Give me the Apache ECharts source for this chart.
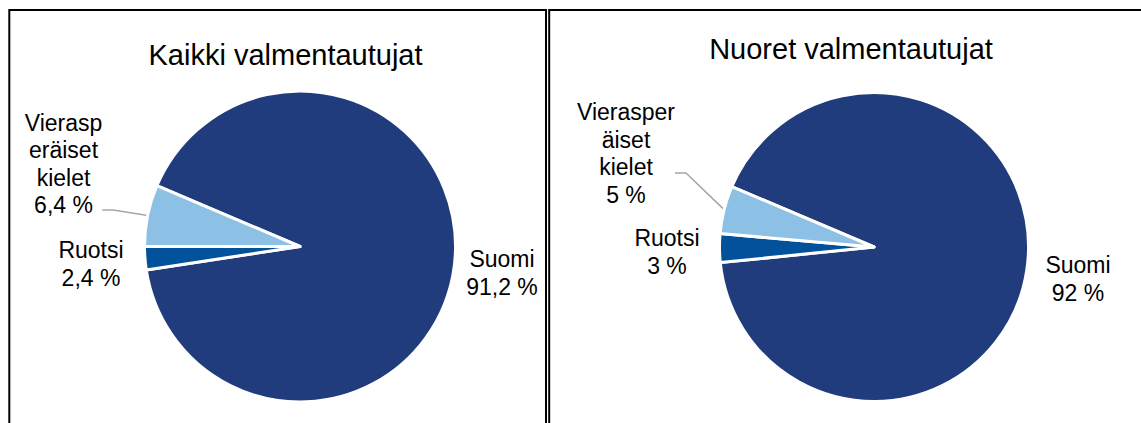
<!DOCTYPE html>
<html>
<head>
<meta charset="utf-8">
<script src="https://cdn.jsdelivr.net/npm/echarts@6/dist/echarts.min.js"></script>
<style>
  html, body { margin: 0; padding: 0; background: #ffffff; }
  #chart { width: 1141px; height: 423px; }
</style>
</head>
<body>
<div id="chart"></div>
<script>
// ---- Data ----
const categories = ['Suomi', 'Ruotsi', 'Vierasperäiset kielet'];
const leftTitle = 'Kaikki valmentautujat';
const rightTitle = 'Nuoret valmentautujat';
const leftValues = [91.2, 2.4, 6.4];
const rightValues = [92, 3, 5];
// label texts as wrapped in the original picture
const leftLabelNames = ['Suomi', 'Ruotsi', 'Vierasp\neräiset\nkielet'];
const rightLabelNames = ['Suomi', 'Ruotsi', 'Vierasper\näiset\nkielet'];

// ---- Styling ----
const sliceColors = ['#203C7C', '#01529B', '#8CC0E4'];
// label centre positions; the third label gets an invisible spacer line at the
// bottom so that its leader line attaches lower on its right side
const labelSpots = {
  left:  [[502, 273], [91, 264], [63.5, 210]],
  right: [[1078, 279], [667, 252], [626, 173]]
};
const spacerHeight = { left: 92, right: 38.8 };

function fmtPct(v) {
  return String(v).replace('.', ',') + ' %';
}

function buildData(values) {
  return categories.map(function (name, i) {
    return {
      name: name,
      value: values[i],
      itemStyle: { color: sliceColors[i] },
      labelLine: { show: i === 2 }
    };
  });
}

function makeSeries(values, labelNames, center, radius, spots, spacer) {
  return {
    type: 'pie',
    center: center,
    radius: radius,
    startAngle: 157,
    clockwise: true,
    avoidLabelOverlap: false,
    animation: false,
    silent: true,
    data: buildData(values),
    itemStyle: { borderColor: '#ffffff', borderWidth: 3 },
    label: {
      show: true,
      position: 'outside',
      color: '#000000',
      fontFamily: 'Liberation Sans, Arial, sans-serif',
      fontSize: 23,
      lineHeight: 27.5,
      align: 'center',
      formatter: function (p) {
        let s = labelNames[p.dataIndex] + '\n' + fmtPct(p.value);
        if (p.dataIndex === 2) s += '\n{sp| }';
        return s;
      },
      rich: {
        sp: { fontSize: 2, lineHeight: spacer, height: spacer }
      }
    },
    labelLine: {
      show: true,
      length: 10,
      length2: 11,
      smooth: false,
      lineStyle: { color: '#A6A6A6', width: 1.5 }
    },
    labelLayout: function (params) {
      const s = spots[params.dataIndex];
      return { x: s[0], y: s[1], align: 'center', verticalAlign: 'middle', hideOverlap: false };
    }
  };
}

const chart = echarts.init(document.getElementById('chart'), null, { renderer: 'svg' });

chart.setOption({
  backgroundColor: '#ffffff',
  animation: false,
  title: [
    {
      text: leftTitle,
      left: 285.5,
      top: 40,
      padding: 0,
      textAlign: 'center',
      textStyle: { fontFamily: 'Liberation Sans, Arial, sans-serif', fontSize: 29, fontWeight: 'normal', color: '#000000' }
    },
    {
      text: rightTitle,
      left: 851,
      top: 34.4,
      padding: 0,
      textAlign: 'center',
      textStyle: { fontFamily: 'Liberation Sans, Arial, sans-serif', fontSize: 29, fontWeight: 'normal', color: '#000000' }
    }
  ],
  graphic: [
    {
      type: 'rect',
      silent: true,
      shape: { x: 9.3, y: 10, width: 536.7, height: 520 },
      style: { fill: 'none', stroke: '#000000', lineWidth: 2 }
    },
    {
      type: 'rect',
      silent: true,
      shape: { x: 549.2, y: 10, width: 700, height: 520 },
      style: { fill: 'none', stroke: '#000000', lineWidth: 2 }
    }
  ],
  series: [
    makeSeries(leftValues, leftLabelNames, [300, 246.5], 155.5, labelSpots.left, spacerHeight.left),
    makeSeries(rightValues, rightLabelNames, [874, 247], 154.5, labelSpots.right, spacerHeight.right)
  ]
});
</script>
</body>
</html>
